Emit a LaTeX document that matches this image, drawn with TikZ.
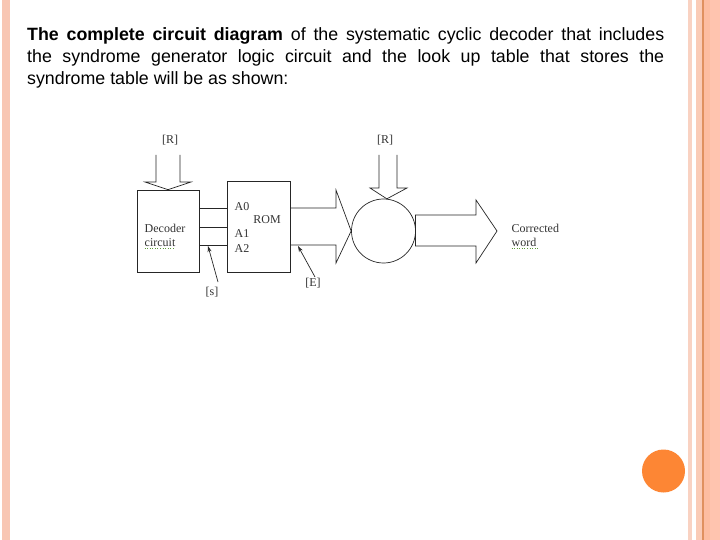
\documentclass[tikz,border=0pt]{standalone}
\usepackage{fontspec}
\setmainfont{Liberation Sans}
\newfontfamily\serifd{Liberation Serif}
\usetikzlibrary{arrows.meta}
\definecolor{stripeL}{HTML}{F8C6B3}
\definecolor{stripeRa}{HTML}{F9D2C2}
\definecolor{stripeRb}{HTML}{FACBB6}
\definecolor{stripeLine}{HTML}{E0915F}
\definecolor{stripeRc}{HTML}{FDBDA1}
\definecolor{stripeRd}{HTML}{FFC4AF}
\definecolor{dotorange}{HTML}{FD8634}
\definecolor{squig}{HTML}{5E9A3A}
\begin{document}
\begin{tikzpicture}[x=1bp,y=-1bp,
  ln/.style={draw=black!85, line width=0.7bp},
  boxd/.style={draw=black!85, line width=0.7bp, inner sep=0pt},
  lbl/.style={font=\serifd\fontsize{12bp}{13bp}\selectfont, text=black!80, inner sep=0pt},
  head/.style={anchor=base west, inner sep=0pt, font=\fontsize{17.8bp}{22bp}\selectfont},
  ptr/.style={draw=black!85, line width=0.7bp, -{Stealth[length=6bp,width=4bp]}},
  squigline/.style={draw=squig, line width=0.6bp, dotted}]
\useasboundingbox (0,0) rectangle (720,540);
\fill[white] (0,0) rectangle (720,540);
% page decoration
\fill[stripeL] (2,0) rectangle (9.5,540);
\fill[stripeRa] (688,0) rectangle (692,540);
\fill[stripeRb] (696,0) rectangle (702,540);
\fill[stripeLine] (702,0) rectangle (703.5,540);
\fill[stripeRc] (703.5,0) rectangle (709.5,540);
\fill[stripeRd] (709.5,0) rectangle (720,540);
\fill[dotorange] (663.5,471) circle (21.5);
% heading
\node[head] (h1) at (27,41) {\hbox to 637bp{\textbf{The complete circuit diagram} of the systematic cyclic decoder that includes}};
\node[head] (h2) at (27,63) {\hbox to 637bp{the syndrome generator logic circuit and the look up table that stores the}};
\node[head] (h3) at (27,85) {syndrome table will be as shown:};
% boxes
\node[boxd, minimum width=62bp, minimum height=82bp] (dec) at (168,231) {};
\node[boxd, minimum width=63bp, minimum height=91bp] (rom) at (258.5,226.5) {};
\node[boxd, circle, minimum size=64bp] (xor) at (383.5,231) {};
% wires between decoder and ROM
\draw[ln] (dec.east |- 0,208) -- (rom.west |- 0,208);
\draw[ln] (dec.east |- 0,227) -- (rom.west |- 0,227);
\draw[ln] (dec.east |- 0,245) -- (rom.west |- 0,245);
% block arrow [R] into decoder
\draw[ln] (156,155) -- (156,182) -- (145,182) -- (dec.north) -- (191,182) -- (180,182) -- (180,155);
% block arrow ROM -> circle
\draw[ln] (rom.east |- 0,208) -- (336,208) -- (336,190) -- (xor.west) -- (336,263) -- (336,245) -- (rom.east |- 0,245);
% block arrow [R] into circle
\draw[ln] (379,155) -- (379,188) -- (370,188) -- (xor.84) -- (407,188) -- (397,188) -- (397,155);
% output block arrow
\coordinate (outtip) at (497,231);
\draw[ln] (415.5,215) -- (476,215) -- (476,200) -- (outtip) -- (476,263) -- (476,246) -- (415.5,246) -- cycle;
% labels
\node[lbl] (r1) at (170,140) {[R]};
\node[lbl] (r2) at (385,140) {[R]};
\node[lbl, anchor=west] (decA) at (144.5,228) {Decoder};
\node[lbl, anchor=west] (decB) at (144.5,243) {circuit};
\node[lbl, anchor=west] (a0) at (234.5,207) {A0};
\node[lbl] (romt) at (267,220) {ROM};
\node[lbl, anchor=west] (a1) at (234.5,234) {A1};
\node[lbl, anchor=west] (a2) at (234.5,249) {A2};
\node[lbl] (slbl) at (212,292) {[s]};
\node[lbl] (elbl) at (313,283) {[E]};
\node[lbl, anchor=west] (cw1) at (511.5,228) {Corrected};
\node[lbl, anchor=west] (cw2) at (511.5,242) {word};
% spell-check squiggles
\draw[squigline] (decB.south west) ++(0,1.5) -- ++(31,0);
\draw[squigline] (cw2.south west) ++(0,1.5) -- ++(27,0);
% pointer arrows
\coordinate (s0) at (218,282);
\coordinate (s1) at (208,246);
\draw[ptr] (s0) -- (s1);
\coordinate (e0) at (315,277);
\coordinate (e1) at (298,246);
\draw[ptr] (e0) -- (e1);
\end{tikzpicture}
\end{document}
